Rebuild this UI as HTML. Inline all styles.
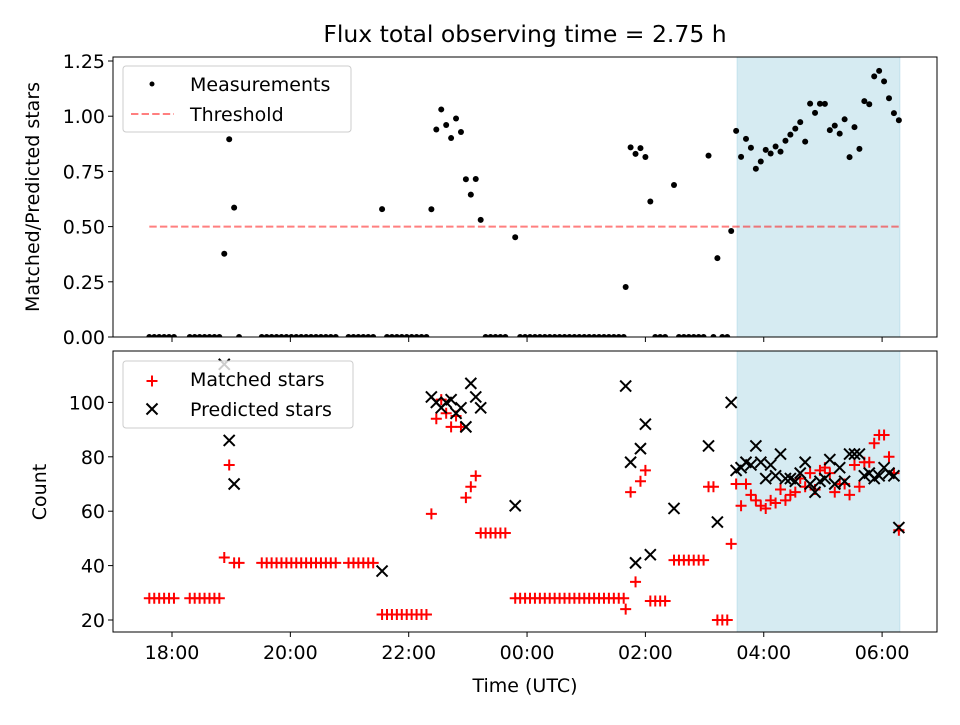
<!DOCTYPE html>
<html><head><meta charset="utf-8"><style>
body{margin:0;background:#fff;font-family:"Liberation Sans","DejaVu Sans",sans-serif}
svg text{font-family:"DejaVu Sans","Liberation Sans",sans-serif;fill:#000}
</style></head><body>
<svg id="chart" width="960" height="720" xmlns="http://www.w3.org/2000/svg"></svg>
<script>
const times=[-23,-18,-13,-8,-3,2,18,23,28,33,38,43,48,53,58,63,68,91,96,101,106,111,116,121,126,131,136,141,146,151,156,161,166,179,184,189,194,199,204,213,218,223,228,233,238,243,248,253,258,263,268,273,278,283,288,293,298,303,308,313,318,323,328,333,338,348,353,358,363,368,373,378,383,388,393,398,403,408,413,418,423,428,433,438,443,448,453,458,460,465,470,475,480,485,490,495,500,509,514,519,524,529,534,539,544,549,553,558,563,567,572,577,582,587,592,597,602,607,612,617,622,627,632,637,642,647,652,657,662,667,672,677,682,687,692,697,702,707,712,717,722,727,732,737];
const matched=[28,28,28,28,28,28,28,28,28,28,28,28,28,43,77,41,41,41,41,41,41,41,41,41,41,41,41,41,41,41,41,41,41,41,41,41,41,41,41,22,22,22,22,22,22,22,22,22,22,59,94,101,96,91,95,91,65,69,73,52,52,52,52,52,52,28,28,28,28,28,28,28,28,28,28,28,28,28,28,28,28,28,28,28,28,28,28,28,24,67,34,71,75,27,27,27,27,42,42,42,42,42,42,42,69,69,20,20,20,48,70,62,70,66,64,62,61,64,63,68,64,66,67,72,69,74,68,75,76,74,67,70,70,66,77,69,78,78,85,88,88,80,74,53];
const predicted=[0,0,0,0,0,0,0,0,0,0,0,0,0,114,86,70,0,0,0,0,0,0,0,0,0,0,0,0,0,0,0,0,0,0,0,0,0,0,0,38,0,0,0,0,0,0,0,0,0,102,100,98,100,101,96,98,91,107,102,98,0,0,0,0,0,62,0,0,0,0,0,0,0,0,0,0,0,0,0,0,0,0,0,0,0,0,0,0,106,78,41,83,92,44,0,0,0,61,0,0,0,0,0,0,84,0,56,0,0,100,75,76,78,77,84,78,72,77,73,81,72,72,71,74,78,70,67,71,72,79,70,76,71,81,81,81,73,74,72,73,76,74,73,54];
const ratioTicks=[0,0.25,0.5,0.75,1.0,1.25];
const countTicks=[20,40,60,80,100];
const timeTicks=[0,120,240,360,480,600,720];
const timeLabels=["18:00","20:00","22:00","00:00","02:00","04:00","06:00"];
const threshold=0.5;
const spanStart=573, spanEnd=738;

const NS="http://www.w3.org/2000/svg";
const svg=document.getElementById('chart');
function mk(tag,attrs,parent){const e=document.createElementNS(NS,tag);for(const k in attrs)e.setAttribute(k,attrs[k]);(parent||svg).appendChild(e);return e;}
const L=113,R=937,T1=57,B1=337,T2=351,B2=632;
const FS=19;
const xs=m=>172+m*0.98625;
const y1=v=>337-v*220.8;
const y2=v=>620-(v-20)*2.72;

mk('text',{x:525,y:42,'font-size':23.5,'text-anchor':'middle',}).textContent='Flux total observing time = 2.75 h';

const c1=mk('clipPath',{id:'c1'});mk('rect',{x:L,y:T1,width:R-L,height:B1-T1},c1);
const c2=mk('clipPath',{id:'c2'});mk('rect',{x:L,y:T2,width:R-L,height:B2-T2},c2);

let s=mk('rect',{x:xs(spanStart),y:T1,width:xs(spanEnd)-xs(spanStart),height:B1-T1,fill:'#add8e6','fill-opacity':0.5,stroke:'#add8e6','stroke-opacity':0.6});

s=mk('rect',{x:xs(spanStart),y:T2,width:xs(spanEnd)-xs(spanStart),height:B2-T2,fill:'#add8e6','fill-opacity':0.5,stroke:'#add8e6','stroke-opacity':0.6});


const th=mk('line',{x1:xs(times[0]),x2:xs(times[times.length-1]),y1:y1(threshold),y2:y1(threshold),stroke:'#ff0000','stroke-opacity':0.5,'stroke-width':2,'stroke-dasharray':'7.4,3.2'});


const g1=mk('g',{'clip-path':'url(#c1)'});
const g2=mk('g',{'clip-path':'url(#c2)'});
for(let i=0;i<times.length;i++){
  const r=predicted[i]>0?matched[i]/predicted[i]:0;
  const d=mk('circle',{cx:xs(times[i]),cy:y1(r),r:3,fill:'#000'},g1);
  
  
}
for(let i=0;i<times.length;i++){
  const x=xs(times[i]),y=y2(matched[i]);
  const p=mk('path',{d:`M${x-5.5},${y}H${x+5.5}M${x},${y-5.5}V${y+5.5}`,stroke:'#ff0000','stroke-width':2},g2);
  
  
}
for(let i=0;i<times.length;i++){
  const x=xs(times[i]),y=y2(predicted[i]);
  const p=mk('path',{d:`M${x-5.5},${y-5.5}L${x+5.5},${y+5.5}M${x-5.5},${y+5.5}L${x+5.5},${y-5.5}`,stroke:'#000','stroke-width':2},g2);
  
  
}

mk('rect',{x:L,y:T1,width:R-L,height:B1-T1,fill:'none',stroke:'#000','stroke-width':1,});
mk('rect',{x:L,y:T2,width:R-L,height:B2-T2,fill:'none',stroke:'#000','stroke-width':1,});

timeTicks.forEach((t,i)=>{
  const x=xs(t);
  mk('line',{x1:x,x2:x,y1:B1,y2:B1+5,stroke:'#000'});
  mk('line',{x1:x,x2:x,y1:B2,y2:B2+5,stroke:'#000'});
  const tx=mk('text',{x:x,y:B2+27,'font-size':FS,'text-anchor':'middle'});
  tx.textContent=timeLabels[i];
  
  
});
ratioTicks.forEach(v=>{
  const y=y1(v);
  mk('line',{x1:L-5,x2:L,y1:y,y2:y,stroke:'#000'});
  const tx=mk('text',{x:L-8,y:y+7,'font-size':FS,'text-anchor':'end'});
  tx.textContent=v.toFixed(2);
  
  
});
countTicks.forEach(v=>{
  const y=y2(v);
  mk('line',{x1:L-5,x2:L,y1:y,y2:y,stroke:'#000'});
  const tx=mk('text',{x:L-8,y:y+7,'font-size':FS,'text-anchor':'end'});
  tx.textContent=String(v);
  
  
});
mk('text',{x:525,y:692,'font-size':FS,'text-anchor':'middle',}).textContent='Time (UTC)';
mk('text',{x:0,y:0,'font-size':FS,'text-anchor':'middle',transform:'translate(39,197) rotate(-90)',}).textContent='Matched/Predicted stars';
mk('text',{x:0,y:0,'font-size':FS,'text-anchor':'middle',transform:'translate(46,492) rotate(-90)',}).textContent='Count';

const lg1=mk('g',{});
mk('rect',{x:123,y:66,width:228,height:66,rx:3,fill:'#fff','fill-opacity':0.8,stroke:'#ccc'},lg1);
mk('circle',{cx:152,cy:84,r:2.5,fill:'#000'},lg1);
mk('text',{x:190,y:91,'font-size':FS},lg1).textContent='Measurements';
mk('line',{x1:131,x2:174,y1:114,y2:114,stroke:'#ff0000','stroke-opacity':0.5,'stroke-width':2,'stroke-dasharray':'7.4,3.2'},lg1);
mk('text',{x:190,y:121,'font-size':FS},lg1).textContent='Threshold';
const lg2=mk('g',{});
mk('rect',{x:123,y:361,width:230,height:67,rx:3,fill:'#fff','fill-opacity':0.8,stroke:'#ccc'},lg2);
mk('path',{d:'M146.5,381H157.5M152,375.5V386.5',stroke:'#ff0000','stroke-width':2},lg2);
mk('text',{x:190,y:386,'font-size':FS},lg2).textContent='Matched stars';
mk('path',{d:'M146.5,403.5L157.5,414.5M146.5,414.5L157.5,403.5',stroke:'#000','stroke-width':2},lg2);
mk('text',{x:190,y:416,'font-size':FS},lg2).textContent='Predicted stars';
</script>
</body></html>
